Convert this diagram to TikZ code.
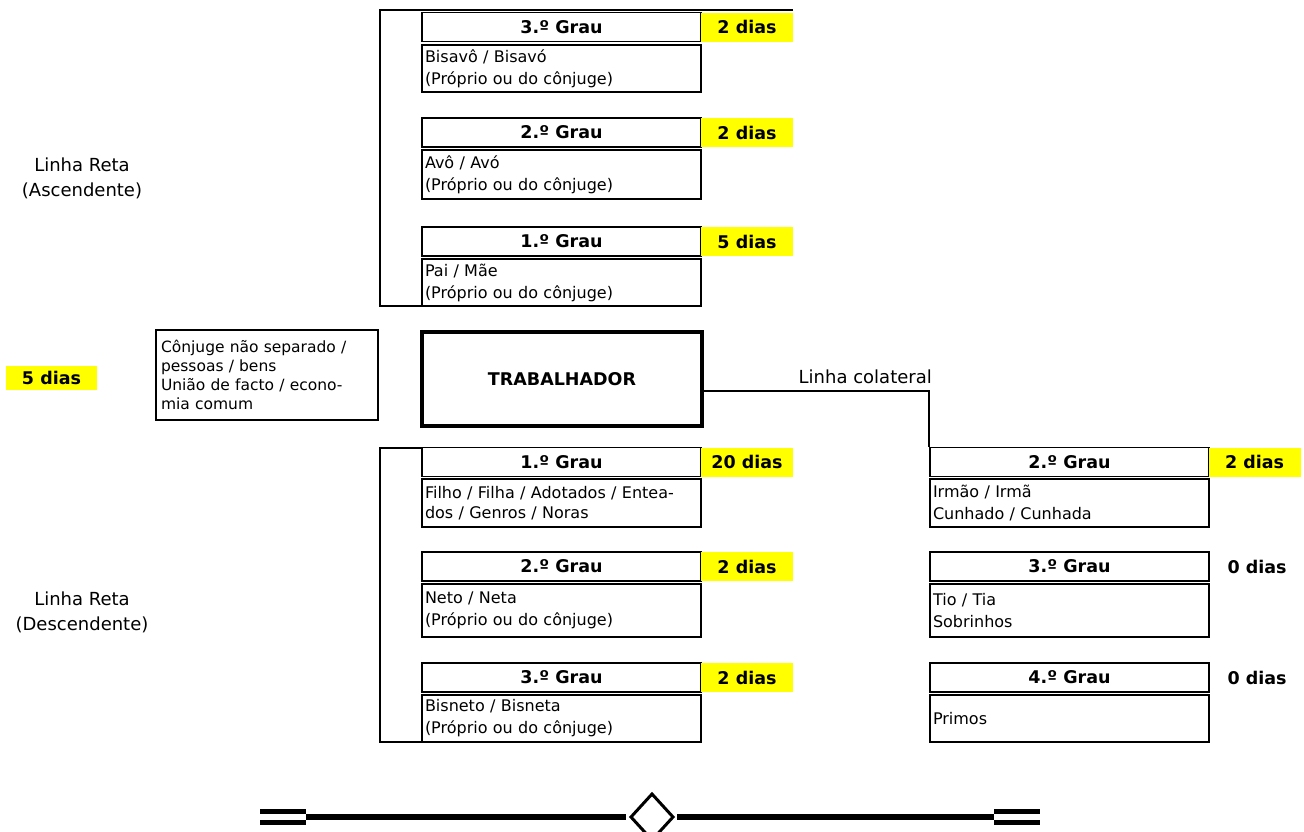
\documentclass[tikz,border=0pt]{standalone}
\usepackage{fontspec}
\setmainfont{DejaVu Sans}
\definecolor{hiyel}{RGB}{255,255,0}
\begin{document}
\begin{tikzpicture}[x=1pt,y=-1pt,
  hdr/.style={draw, line width=1.9pt, minimum width=279pt, minimum height=29pt, inner sep=0pt, font=\fontsize{17.5}{20}\selectfont\bfseries},
  bodyb/.style={draw, line width=1.9pt, minimum width=279pt, inner sep=0pt, text width=273pt, align=left, font=\fontsize{16}{22}\selectfont},
  dias/.style={minimum width=92pt, minimum height=29pt, inner sep=0pt, font=\fontsize{17.5}{20}\selectfont\bfseries},
  yel/.style={dias, fill=hiyel},
  lbl/.style={inner sep=0pt, align=center, font=\fontsize{18}{25}\selectfont},
  brk/.style={line width=1.9pt},
  conn/.style={line width=1.9pt}]
\useasboundingbox (0,0) rectangle (1304,831);

% left labels
\node[lbl] (asc) at (82,178) {Linha Reta\\(Ascendente)};
\node[lbl] (desc) at (82,612) {Linha Reta\\(Descendente)};

% ascendente
\node[hdr] (a3h) at (561.5,27) {3.º Grau};
\node[bodyb, minimum height=47pt] (a3b) at (561.5,68.5) {Bisavô / Bisavó\\(Próprio ou do cônjuge)};
\node[yel] (a3d) at (747,27) {2 dias};

\node[hdr] (a2h) at (561.5,132.5) {2.º Grau};
\node[bodyb, minimum height=49pt] (a2b) at (561.5,174.5) {Avô / Avó\\(Próprio ou do cônjuge)};
\node[yel] (a2d) at (747,132.5) {2 dias};

\node[hdr] (a1h) at (561.5,241.5) {1.º Grau};
\node[bodyb, minimum height=47pt] (a1b) at (561.5,282.5) {Pai / Mãe\\(Próprio ou do cônjuge)};
\node[yel] (a1d) at (747,241.5) {5 dias};

\coordinate (ubt) at (380,10);
\coordinate (ubb) at (380,306);
\draw[brk] (ubt -| a3d.east) -- (ubt) -- (ubb) -- (ubb -| a1b.west);

% centre row
\node[yel, minimum width=91pt, minimum height=24pt] (sd) at (51.5,378) {5 dias};
\node[draw, line width=1.2pt, minimum width=222pt, minimum height=90pt, inner sep=0pt, text width=212pt, align=left, font=\fontsize{15.5}{18.8}\selectfont] (sp) at (267,375) {Cônjuge não separado /\\pessoas / bens\\União de facto / econo-\\mia comum};
\node[draw, line width=3.4pt, minimum width=280pt, minimum height=94pt, inner sep=0pt, font=\fontsize{17.5}{20}\selectfont\bfseries] (trab) at (562,379) {TRABALHADOR};

% descendente
\node[hdr] (d1h) at (561.5,462) {1.º Grau};
\node[bodyb, minimum height=48pt, font=\fontsize{16}{20}\selectfont] (d1b) at (561.5,503) {Filho / Filha / Adotados / Entea-\\dos / Genros / Noras};
\node[yel] (d1d) at (747,462) {20 dias};

\node[hdr] (d2h) at (561.5,566.5) {2.º Grau};
\node[bodyb, minimum height=53pt] (d2b) at (561.5,610.5) {Neto / Neta\\(Próprio ou do cônjuge)};
\node[yel] (d2d) at (747,566.5) {2 dias};

\node[hdr] (d3h) at (561.5,677.5) {3.º Grau};
\node[bodyb, minimum height=47pt] (d3b) at (561.5,718.5) {Bisneto / Bisneta\\(Próprio ou do cônjuge)};
\node[yel] (d3d) at (747,677.5) {2 dias};

\coordinate (lbt) at (380,448);
\coordinate (lbb) at (380,742);
\draw[brk] (lbt -| d1h.west) -- (lbt) -- (lbb) -- (lbb -| d3b.west);

% colateral
\node[hdr] (c2h) at (1069.5,462) {2.º Grau};
\node[bodyb, minimum height=48pt] (c2b) at (1069.5,503) {Irmão / Irmã\\Cunhado / Cunhada};
\node[yel] (c2d) at (1254.5,462) {2 dias};

\node[hdr] (c3h) at (1069.5,566.5) {3.º Grau};
\node[bodyb, minimum height=53pt] (c3b) at (1069.5,610.5) {Tio / Tia\\Sobrinhos};
\node[dias] (c3d) at (1257,566.5) {0 dias};

\node[hdr] (c4h) at (1069.5,677.5) {4.º Grau};
\node[bodyb, minimum height=47pt] (c4b) at (1069.5,718.5) {Primos};
\node[dias] (c4d) at (1257,677.5) {0 dias};

\draw[conn] ([yshift=-12pt]trab.east) -| (c2h.north west);
\node[lbl, anchor=base east] (colat) at (932,383) {Linha colateral};

% bottom ornament
\fill (260,809) rectangle (306,814);
\fill (260,820) rectangle (306,825);
\fill (994,809) rectangle (1040,814);
\fill (994,820) rectangle (1040,825);
\draw[line width=6pt] (306,817) -- (626,817);
\draw[line width=6pt] (677,817) -- (994,817);
\draw[line width=3pt] (652,794) -- (673,817) -- (652,840) -- (631,817) -- cycle;
\end{tikzpicture}
\end{document}
